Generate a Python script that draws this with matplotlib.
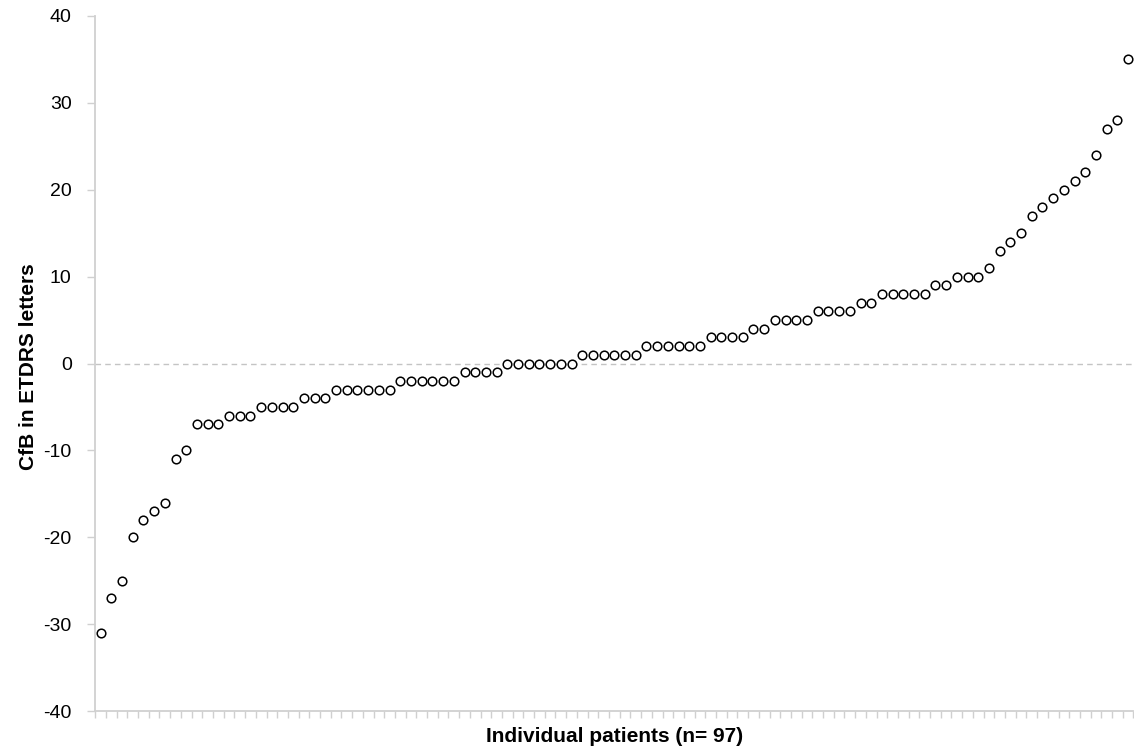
import numpy as np
import matplotlib
matplotlib.use('Agg')
import matplotlib.pyplot as plt

# Change from baseline (ETDRS letters), sorted, one value per patient
cfb_values = [-31, -27, -25, -20, -18, -17, -16, -11, -10,
              -7, -7, -7, -6, -6, -6, -5, -5, -5, -5, -4, -4, -4,
              -3, -3, -3, -3, -3, -3, -2, -2, -2, -2, -2, -2,
              -1, -1, -1, -1, 0, 0, 0, 0, 0, 0, 0,
              1, 1, 1, 1, 1, 1, 2, 2, 2, 2, 2, 2,
              3, 3, 3, 3, 4, 4, 5, 5, 5, 5, 6, 6, 6, 6, 7, 7,
              8, 8, 8, 8, 8, 9, 9, 10, 10, 10,
              11, 13, 14, 15, 17, 18, 19, 20, 21, 22, 24, 27, 28, 35]
patients = np.arange(1, len(cfb_values) + 1)
y_ticks = [-40, -30, -20, -10, 0, 10, 20, 30, 40]

AXIS_GREY = '#d0d0d0'

plt.rcParams['font.family'] = ['Liberation Sans', 'DejaVu Sans']

fig = plt.figure(figsize=(11.34, 7.55), dpi=100)
ax = fig.add_axes([0.084, 0.058, 0.9155, 0.921])

ax.plot(patients, cfb_values, linestyle='none', marker='o', markersize=6.2,
        markerfacecolor='white', markeredgecolor='black', markeredgewidth=1.1,
        zorder=3)
ax.axhline(0, color='#c4c4c4', linestyle=(0, (4, 3)), linewidth=1.0, zorder=1)

ax.set_xlim(0.5, len(cfb_values) + 0.5)
ax.set_ylim(-40, 40)
ax.set_yticks(y_ticks)
ax.set_yticklabels([str(v) for v in y_ticks], fontsize=14)

# category boundaries as small ticks on the x axis
ax.set_xticks(np.arange(0.5, len(cfb_values) + 1.0, 1.0))
ax.set_xticklabels([])
ax.tick_params(axis='x', direction='out', length=5, width=1, color=AXIS_GREY)
ax.tick_params(axis='y', direction='out', length=6, width=1, color=AXIS_GREY,
               pad=11)

for side in ['top', 'right']:
    ax.spines[side].set_visible(False)
for side in ['left', 'bottom']:
    ax.spines[side].set_color(AXIS_GREY)
    ax.spines[side].set_linewidth(1.3)

ax.set_xlabel('Individual patients (n= 97)', fontsize=15, fontweight='bold')
ax.xaxis.set_label_coords(0.5, -0.023)
ax.set_ylabel('CfB in ETDRS letters', fontsize=15, fontweight='bold')
ax.yaxis.set_label_coords(-0.055, 0.495)

plt.savefig('out.png', dpi=100)
plt.close()
